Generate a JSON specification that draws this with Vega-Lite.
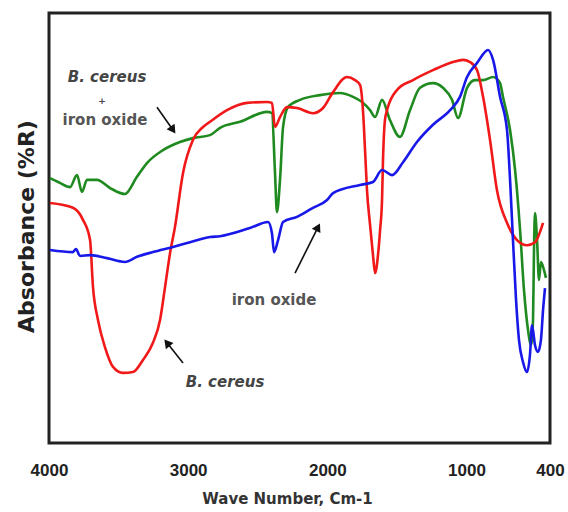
{
  "$schema": "https://vega.github.io/schema/vega-lite/v6.json",
  "width": 501,
  "height": 430,
  "autosize": "none",
  "padding": {"left": 49, "top": 13, "right": 18, "bottom": 69},
  "background": "white",
  "config": {
    "view": {"stroke": "#222", "strokeWidth": 3},
    "axis": {"grid": false}
  },
  "datasets": {
    "spectra": [
      {"sample": "B. cereus + iron oxide", "wavenumber": 3993, "reflectance": 61.6},
      {"sample": "B. cereus + iron oxide", "wavenumber": 3921, "reflectance": 60.5},
      {"sample": "B. cereus + iron oxide", "wavenumber": 3849, "reflectance": 59.5},
      {"sample": "B. cereus + iron oxide", "wavenumber": 3799, "reflectance": 62.3},
      {"sample": "B. cereus + iron oxide", "wavenumber": 3763, "reflectance": 58.4},
      {"sample": "B. cereus + iron oxide", "wavenumber": 3727, "reflectance": 61.2},
      {"sample": "B. cereus + iron oxide", "wavenumber": 3655, "reflectance": 61.2},
      {"sample": "B. cereus + iron oxide", "wavenumber": 3562, "reflectance": 59.3},
      {"sample": "B. cereus + iron oxide", "wavenumber": 3454, "reflectance": 57.9},
      {"sample": "B. cereus + iron oxide", "wavenumber": 3368, "reflectance": 61.9},
      {"sample": "B. cereus + iron oxide", "wavenumber": 3296, "reflectance": 65.1},
      {"sample": "B. cereus + iron oxide", "wavenumber": 3181, "reflectance": 68.1},
      {"sample": "B. cereus + iron oxide", "wavenumber": 3059, "reflectance": 70.0},
      {"sample": "B. cereus + iron oxide", "wavenumber": 2965, "reflectance": 70.9},
      {"sample": "B. cereus + iron oxide", "wavenumber": 2843, "reflectance": 71.6},
      {"sample": "B. cereus + iron oxide", "wavenumber": 2771, "reflectance": 73.3},
      {"sample": "B. cereus + iron oxide", "wavenumber": 2627, "reflectance": 74.7},
      {"sample": "B. cereus + iron oxide", "wavenumber": 2433, "reflectance": 77.0},
      {"sample": "B. cereus + iron oxide", "wavenumber": 2398, "reflectance": 76.7},
      {"sample": "B. cereus + iron oxide", "wavenumber": 2376, "reflectance": 62.8},
      {"sample": "B. cereus + iron oxide", "wavenumber": 2362, "reflectance": 53.7},
      {"sample": "B. cereus + iron oxide", "wavenumber": 2340, "reflectance": 61.2},
      {"sample": "B. cereus + iron oxide", "wavenumber": 2318, "reflectance": 73.5},
      {"sample": "B. cereus + iron oxide", "wavenumber": 2283, "reflectance": 78.1},
      {"sample": "B. cereus + iron oxide", "wavenumber": 2196, "reflectance": 79.8},
      {"sample": "B. cereus + iron oxide", "wavenumber": 2053, "reflectance": 80.9},
      {"sample": "B. cereus + iron oxide", "wavenumber": 1909, "reflectance": 81.4},
      {"sample": "B. cereus + iron oxide", "wavenumber": 1815, "reflectance": 80.5},
      {"sample": "B. cereus + iron oxide", "wavenumber": 1751, "reflectance": 79.3},
      {"sample": "B. cereus + iron oxide", "wavenumber": 1693, "reflectance": 77.4},
      {"sample": "B. cereus + iron oxide", "wavenumber": 1657, "reflectance": 75.8},
      {"sample": "B. cereus + iron oxide", "wavenumber": 1607, "reflectance": 79.8},
      {"sample": "B. cereus + iron oxide", "wavenumber": 1550, "reflectance": 75.1},
      {"sample": "B. cereus + iron oxide", "wavenumber": 1478, "reflectance": 71.2},
      {"sample": "B. cereus + iron oxide", "wavenumber": 1406, "reflectance": 77.4},
      {"sample": "B. cereus + iron oxide", "wavenumber": 1334, "reflectance": 82.6},
      {"sample": "B. cereus + iron oxide", "wavenumber": 1241, "reflectance": 83.7},
      {"sample": "B. cereus + iron oxide", "wavenumber": 1169, "reflectance": 82.6},
      {"sample": "B. cereus + iron oxide", "wavenumber": 1104, "reflectance": 79.8},
      {"sample": "B. cereus + iron oxide", "wavenumber": 1061, "reflectance": 75.6},
      {"sample": "B. cereus + iron oxide", "wavenumber": 996, "reflectance": 82.6},
      {"sample": "B. cereus + iron oxide", "wavenumber": 939, "reflectance": 84.4},
      {"sample": "B. cereus + iron oxide", "wavenumber": 881, "reflectance": 84.4},
      {"sample": "B. cereus + iron oxide", "wavenumber": 809, "reflectance": 85.1},
      {"sample": "B. cereus + iron oxide", "wavenumber": 759, "reflectance": 83.7},
      {"sample": "B. cereus + iron oxide", "wavenumber": 738, "reflectance": 80.5},
      {"sample": "B. cereus + iron oxide", "wavenumber": 687, "reflectance": 72.8},
      {"sample": "B. cereus + iron oxide", "wavenumber": 651, "reflectance": 63.5},
      {"sample": "B. cereus + iron oxide", "wavenumber": 615, "reflectance": 49.5},
      {"sample": "B. cereus + iron oxide", "wavenumber": 587, "reflectance": 35.6},
      {"sample": "B. cereus + iron oxide", "wavenumber": 558, "reflectance": 26.3},
      {"sample": "B. cereus + iron oxide", "wavenumber": 536, "reflectance": 22.8},
      {"sample": "B. cereus + iron oxide", "wavenumber": 522, "reflectance": 28.6},
      {"sample": "B. cereus + iron oxide", "wavenumber": 515, "reflectance": 44.9},
      {"sample": "B. cereus + iron oxide", "wavenumber": 508, "reflectance": 53.5},
      {"sample": "B. cereus + iron oxide", "wavenumber": 493, "reflectance": 47.2},
      {"sample": "B. cereus + iron oxide", "wavenumber": 479, "reflectance": 37.9},
      {"sample": "B. cereus + iron oxide", "wavenumber": 465, "reflectance": 42.1},
      {"sample": "B. cereus + iron oxide", "wavenumber": 443, "reflectance": 40.2},
      {"sample": "B. cereus + iron oxide", "wavenumber": 429, "reflectance": 38.4},

      {"sample": "B. cereus", "wavenumber": 3993, "reflectance": 55.8},
      {"sample": "B. cereus", "wavenumber": 3828, "reflectance": 54.7},
      {"sample": "B. cereus", "wavenumber": 3756, "reflectance": 51.9},
      {"sample": "B. cereus", "wavenumber": 3705, "reflectance": 47.2},
      {"sample": "B. cereus", "wavenumber": 3684, "reflectance": 36.3},
      {"sample": "B. cereus", "wavenumber": 3648, "reflectance": 28.6},
      {"sample": "B. cereus", "wavenumber": 3598, "reflectance": 22.3},
      {"sample": "B. cereus", "wavenumber": 3540, "reflectance": 17.7},
      {"sample": "B. cereus", "wavenumber": 3468, "reflectance": 16.3},
      {"sample": "B. cereus", "wavenumber": 3396, "reflectance": 16.5},
      {"sample": "B. cereus", "wavenumber": 3325, "reflectance": 19.3},
      {"sample": "B. cereus", "wavenumber": 3253, "reflectance": 23.3},
      {"sample": "B. cereus", "wavenumber": 3202, "reflectance": 28.6},
      {"sample": "B. cereus", "wavenumber": 3166, "reflectance": 36.3},
      {"sample": "B. cereus", "wavenumber": 3130, "reflectance": 44.2},
      {"sample": "B. cereus", "wavenumber": 3095, "reflectance": 50.2},
      {"sample": "B. cereus", "wavenumber": 3037, "reflectance": 62.8},
      {"sample": "B. cereus", "wavenumber": 2965, "reflectance": 70.5},
      {"sample": "B. cereus", "wavenumber": 2893, "reflectance": 73.5},
      {"sample": "B. cereus", "wavenumber": 2843, "reflectance": 74.7},
      {"sample": "B. cereus", "wavenumber": 2721, "reflectance": 77.4},
      {"sample": "B. cereus", "wavenumber": 2577, "reflectance": 79.1},
      {"sample": "B. cereus", "wavenumber": 2433, "reflectance": 79.3},
      {"sample": "B. cereus", "wavenumber": 2398, "reflectance": 79.1},
      {"sample": "B. cereus", "wavenumber": 2376, "reflectance": 73.5},
      {"sample": "B. cereus", "wavenumber": 2340, "reflectance": 75.8},
      {"sample": "B. cereus", "wavenumber": 2290, "reflectance": 78.1},
      {"sample": "B. cereus", "wavenumber": 2218, "reflectance": 77.9},
      {"sample": "B. cereus", "wavenumber": 2103, "reflectance": 76.7},
      {"sample": "B. cereus", "wavenumber": 2031, "reflectance": 77.9},
      {"sample": "B. cereus", "wavenumber": 1959, "reflectance": 81.6},
      {"sample": "B. cereus", "wavenumber": 1859, "reflectance": 85.1},
      {"sample": "B. cereus", "wavenumber": 1801, "reflectance": 84.4},
      {"sample": "B. cereus", "wavenumber": 1765, "reflectance": 83.3},
      {"sample": "B. cereus", "wavenumber": 1744, "reflectance": 77.4},
      {"sample": "B. cereus", "wavenumber": 1729, "reflectance": 68.1},
      {"sample": "B. cereus", "wavenumber": 1715, "reflectance": 58.8},
      {"sample": "B. cereus", "wavenumber": 1693, "reflectance": 50.7},
      {"sample": "B. cereus", "wavenumber": 1672, "reflectance": 43.7},
      {"sample": "B. cereus", "wavenumber": 1657, "reflectance": 39.5},
      {"sample": "B. cereus", "wavenumber": 1636, "reflectance": 43.7},
      {"sample": "B. cereus", "wavenumber": 1621, "reflectance": 49.5},
      {"sample": "B. cereus", "wavenumber": 1607, "reflectance": 56.5},
      {"sample": "B. cereus", "wavenumber": 1600, "reflectance": 65.8},
      {"sample": "B. cereus", "wavenumber": 1586, "reflectance": 75.1},
      {"sample": "B. cereus", "wavenumber": 1571, "reflectance": 77.4},
      {"sample": "B. cereus", "wavenumber": 1499, "reflectance": 82.1},
      {"sample": "B. cereus", "wavenumber": 1384, "reflectance": 84.4},
      {"sample": "B. cereus", "wavenumber": 1241, "reflectance": 86.7},
      {"sample": "B. cereus", "wavenumber": 1097, "reflectance": 88.6},
      {"sample": "B. cereus", "wavenumber": 1025, "reflectance": 89.1},
      {"sample": "B. cereus", "wavenumber": 975, "reflectance": 88.6},
      {"sample": "B. cereus", "wavenumber": 924, "reflectance": 86.7},
      {"sample": "B. cereus", "wavenumber": 881, "reflectance": 80.5},
      {"sample": "B. cereus", "wavenumber": 831, "reflectance": 70.5},
      {"sample": "B. cereus", "wavenumber": 781, "reflectance": 58.8},
      {"sample": "B. cereus", "wavenumber": 709, "reflectance": 51.2},
      {"sample": "B. cereus", "wavenumber": 637, "reflectance": 47.2},
      {"sample": "B. cereus", "wavenumber": 565, "reflectance": 46.0},
      {"sample": "B. cereus", "wavenumber": 508, "reflectance": 46.7},
      {"sample": "B. cereus", "wavenumber": 450, "reflectance": 51.2},

      {"sample": "iron oxide", "wavenumber": 3993, "reflectance": 44.9},
      {"sample": "iron oxide", "wavenumber": 3828, "reflectance": 44.4},
      {"sample": "iron oxide", "wavenumber": 3806, "reflectance": 45.1},
      {"sample": "iron oxide", "wavenumber": 3777, "reflectance": 43.5},
      {"sample": "iron oxide", "wavenumber": 3705, "reflectance": 43.7},
      {"sample": "iron oxide", "wavenumber": 3583, "reflectance": 43.0},
      {"sample": "iron oxide", "wavenumber": 3454, "reflectance": 42.1},
      {"sample": "iron oxide", "wavenumber": 3368, "reflectance": 43.3},
      {"sample": "iron oxide", "wavenumber": 3253, "reflectance": 44.4},
      {"sample": "iron oxide", "wavenumber": 3109, "reflectance": 45.6},
      {"sample": "iron oxide", "wavenumber": 2987, "reflectance": 46.7},
      {"sample": "iron oxide", "wavenumber": 2843, "reflectance": 47.9},
      {"sample": "iron oxide", "wavenumber": 2771, "reflectance": 48.1},
      {"sample": "iron oxide", "wavenumber": 2556, "reflectance": 50.0},
      {"sample": "iron oxide", "wavenumber": 2426, "reflectance": 51.4},
      {"sample": "iron oxide", "wavenumber": 2398, "reflectance": 48.8},
      {"sample": "iron oxide", "wavenumber": 2383, "reflectance": 44.4},
      {"sample": "iron oxide", "wavenumber": 2354, "reflectance": 47.2},
      {"sample": "iron oxide", "wavenumber": 2318, "reflectance": 51.4},
      {"sample": "iron oxide", "wavenumber": 2218, "reflectance": 52.6},
      {"sample": "iron oxide", "wavenumber": 2103, "reflectance": 54.7},
      {"sample": "iron oxide", "wavenumber": 2002, "reflectance": 56.5},
      {"sample": "iron oxide", "wavenumber": 1959, "reflectance": 58.1},
      {"sample": "iron oxide", "wavenumber": 1765, "reflectance": 60.0},
      {"sample": "iron oxide", "wavenumber": 1672, "reflectance": 60.7},
      {"sample": "iron oxide", "wavenumber": 1607, "reflectance": 63.5},
      {"sample": "iron oxide", "wavenumber": 1535, "reflectance": 62.3},
      {"sample": "iron oxide", "wavenumber": 1456, "reflectance": 65.3},
      {"sample": "iron oxide", "wavenumber": 1356, "reflectance": 70.0},
      {"sample": "iron oxide", "wavenumber": 1241, "reflectance": 74.0},
      {"sample": "iron oxide", "wavenumber": 1118, "reflectance": 77.4},
      {"sample": "iron oxide", "wavenumber": 1047, "reflectance": 80.5},
      {"sample": "iron oxide", "wavenumber": 996, "reflectance": 85.1},
      {"sample": "iron oxide", "wavenumber": 924, "reflectance": 88.4},
      {"sample": "iron oxide", "wavenumber": 845, "reflectance": 91.4},
      {"sample": "iron oxide", "wavenumber": 809, "reflectance": 89.1},
      {"sample": "iron oxide", "wavenumber": 759, "reflectance": 80.5},
      {"sample": "iron oxide", "wavenumber": 709, "reflectance": 72.8},
      {"sample": "iron oxide", "wavenumber": 687, "reflectance": 61.2},
      {"sample": "iron oxide", "wavenumber": 666, "reflectance": 47.2},
      {"sample": "iron oxide", "wavenumber": 644, "reflectance": 33.3},
      {"sample": "iron oxide", "wavenumber": 623, "reflectance": 24.0},
      {"sample": "iron oxide", "wavenumber": 594, "reflectance": 18.8},
      {"sample": "iron oxide", "wavenumber": 565, "reflectance": 16.5},
      {"sample": "iron oxide", "wavenumber": 544, "reflectance": 20.5},
      {"sample": "iron oxide", "wavenumber": 529, "reflectance": 27.4},
      {"sample": "iron oxide", "wavenumber": 508, "reflectance": 22.8},
      {"sample": "iron oxide", "wavenumber": 486, "reflectance": 21.2},
      {"sample": "iron oxide", "wavenumber": 465, "reflectance": 24.0},
      {"sample": "iron oxide", "wavenumber": 450, "reflectance": 30.9},
      {"sample": "iron oxide", "wavenumber": 436, "reflectance": 36.0}
    ],
    "italicNotes": [
      {"label": "B. cereus", "wavenumber": 3583, "reflectance": 85.1},
      {"label": "B. cereus", "wavenumber": 2735, "reflectance": 14.2}
    ],
    "plainNotes": [
      {"label": "iron oxide", "wavenumber": 3598, "reflectance": 75.1},
      {"label": "iron oxide", "wavenumber": 2383, "reflectance": 33.3}
    ],
    "plusNote": [
      {"label": "+", "wavenumber": 3619, "reflectance": 79.6}
    ],
    "arrows": [
      {"arrow": "a", "wavenumber": 3224, "reflectance": 78.1, "wavenumberEnd": 3109, "reflectanceEnd": 72.8},
      {"arrow": "b", "wavenumber": 2232, "reflectance": 39.5, "wavenumberEnd": 2067, "reflectanceEnd": 50.2},
      {"arrow": "c", "wavenumber": 3037, "reflectance": 18.6, "wavenumberEnd": 3152, "reflectanceEnd": 23.3}
    ]
  },
  "layer": [
    {
      "data": {"name": "spectra"},
      "mark": {"type": "line", "strokeWidth": 2.6, "strokeJoin": "round", "interpolate": "monotone"},
      "encoding": {
        "x": {
          "field": "wavenumber", "type": "quantitative",
          "scale": {"domain": [400, 4000], "reverse": true, "nice": false, "zero": false},
          "axis": {
            "values": [4000, 3000, 2000, 1000, 400],
            "format": "d",
            "ticks": false, "domain": false, "grid": false, "labelFlush": false,
            "labelFont": "Liberation Sans", "labelFontWeight": "bold", "labelFontSize": 17,
            "labelColor": "#222", "labelBaseline": "middle", "labelPadding": 27,
            "title": "Wave Number, Cm-1",
            "titleFont": "DejaVu Sans", "titleFontWeight": "bold", "titleFontSize": 15,
            "titleColor": "#333", "titleBaseline": "middle", "titleX": 238, "titleY": 55,
            "encode": {
              "labels": {
                "update": {
                  "dx": {"signal": "datum.value == 400 ? 2 : datum.value == 4000 ? -11 : datum.value == 1000 ? -14 : -16"},
                  "dy": {"signal": "datum.value == 4000 ? 5 : datum.value == 3000 ? 3 : datum.value == 2000 ? 0 : datum.value == 1000 ? -6 : -7"}
                }
              }
            }
          }
        },
        "y": {
          "field": "reflectance", "type": "quantitative",
          "scale": {"domain": [0, 100], "nice": false},
          "axis": {
            "labels": false, "ticks": false, "domain": false, "grid": false,
            "title": "Absorbance (%R)",
            "titleFont": "DejaVu Sans", "titleFontWeight": "bold", "titleFontSize": 22,
            "titleColor": "#222", "titleAngle": -90, "titleBaseline": "middle",
            "titleAlign": "center", "titleX": -23, "titleY": 213
          }
        },
        "color": {
          "field": "sample", "type": "nominal",
          "scale": {"domain": ["B. cereus + iron oxide", "B. cereus", "iron oxide"], "range": ["#1f8a1f", "#f01818", "#1818e8"]},
          "legend": null
        }
      }
    },
    {
      "data": {"name": "arrows"},
      "mark": {"type": "rule", "color": "#111", "strokeWidth": 1.6},
      "encoding": {
        "x": {"field": "wavenumber", "type": "quantitative"},
        "y": {"field": "reflectance", "type": "quantitative"},
        "x2": {"field": "wavenumberEnd"},
        "y2": {"field": "reflectanceEnd"}
      }
    },
    {
      "data": {"name": "arrows"},
      "transform": [{"filter": "datum.arrow == 'a'"}],
      "mark": {"type": "point", "shape": "triangle-up", "filled": true, "color": "#111", "size": 95, "angle": 145, "opacity": 1},
      "encoding": {
        "x": {"field": "wavenumberEnd", "type": "quantitative"},
        "y": {"field": "reflectanceEnd", "type": "quantitative"}
      }
    },
    {
      "data": {"name": "arrows"},
      "transform": [{"filter": "datum.arrow == 'b'"}],
      "mark": {"type": "point", "shape": "triangle-up", "filled": true, "color": "#111", "size": 95, "angle": 27, "opacity": 1},
      "encoding": {
        "x": {"field": "wavenumberEnd", "type": "quantitative"},
        "y": {"field": "reflectanceEnd", "type": "quantitative"}
      }
    },
    {
      "data": {"name": "arrows"},
      "transform": [{"filter": "datum.arrow == 'c'"}],
      "mark": {"type": "point", "shape": "triangle-up", "filled": true, "color": "#111", "size": 95, "angle": -39, "opacity": 1},
      "encoding": {
        "x": {"field": "wavenumberEnd", "type": "quantitative"},
        "y": {"field": "reflectanceEnd", "type": "quantitative"}
      }
    },
    {
      "data": {"name": "italicNotes"},
      "mark": {"type": "text", "font": "DejaVu Sans", "fontWeight": "bold", "fontStyle": "italic", "fontSize": 15, "color": "#444", "align": "center", "baseline": "middle"},
      "encoding": {
        "x": {"field": "wavenumber", "type": "quantitative"},
        "y": {"field": "reflectance", "type": "quantitative"},
        "text": {"field": "label"}
      }
    },
    {
      "data": {"name": "plainNotes"},
      "mark": {"type": "text", "font": "DejaVu Sans", "fontWeight": "bold", "fontSize": 15, "color": "#555", "align": "center", "baseline": "middle"},
      "encoding": {
        "x": {"field": "wavenumber", "type": "quantitative"},
        "y": {"field": "reflectance", "type": "quantitative"},
        "text": {"field": "label"}
      }
    },
    {
      "data": {"name": "plusNote"},
      "mark": {"type": "text", "font": "DejaVu Sans", "fontWeight": "bold", "fontSize": 9, "color": "#444", "align": "center", "baseline": "middle"},
      "encoding": {
        "x": {"field": "wavenumber", "type": "quantitative"},
        "y": {"field": "reflectance", "type": "quantitative"},
        "text": {"field": "label"}
      }
    }
  ]
}
